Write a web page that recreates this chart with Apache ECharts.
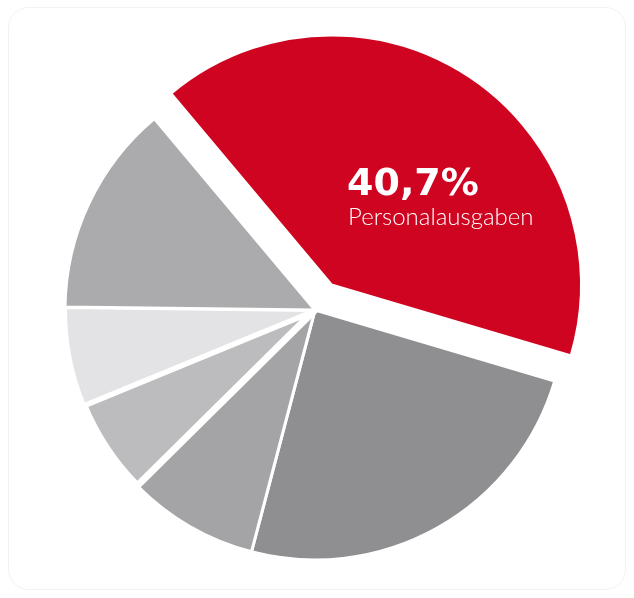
<!DOCTYPE html>
<html>
<head>
<meta charset="utf-8">
<script src="https://cdn.jsdelivr.net/npm/echarts@6/dist/echarts.min.js"></script>
<style>
  html, body { margin: 0; padding: 0; background: #fff; }
  #chart { width: 634px; height: 598px; }
</style>
</head>
<body>
<div id="chart"></div>
<script>
// shares of the budget, clockwise from the red slice
const categories = ['Personalausgaben', 'Sonstige 1', 'Sonstige 2', 'Sonstige 3', 'Sonstige 4', 'Sonstige 5'];
const values = [40.7, 24.5, 8.5, 6.2, 6.4, 13.7];
const colors = ['#cf0420', '#8f8f91', '#a4a4a6', '#bcbcbe', '#e3e3e5', '#ababad'];
const highlightValue = '40,7%';
const highlightLabel = 'Personalausgaben';

const chart = echarts.init(document.getElementById('chart'));

chart.setOption({
  backgroundColor: '#fff',
  animation: false,
  graphic: [
    {
      type: 'rect',
      shape: { x: 8.5, y: 7.5, width: 617, height: 582, r: 20 },
      style: { fill: 'none', stroke: '#f6f1f1', lineWidth: 1 },
      z: -1,
    },
    {
      type: 'text',
      left: 347, top: 166,
      style: {
        text: highlightValue,
        fill: '#fff',
        font: '900 38px "DejaVu Sans"',
      },
      z: 100,
    },
    {
      type: 'text',
      left: 348, top: 205,
      style: {
        text: highlightLabel,
        fill: '#fff',
        font: '300 24px Lato',
      },
      z: 100,
    },
  ],
  series: [
    {
      type: 'pie',
      center: [315, 310],
      radius: [0, 250],
      startAngle: 130,
      clockwise: true,
      selectedMode: 'single',
      selectedOffset: 30,
      label: { show: false },
      labelLine: { show: false },
      emphasis: { disabled: true },
      itemStyle: { borderColor: '#fff', borderWidth: 3 },
      data: values.map((v, i) => ({
        name: categories[i],
        value: v,
        selected: i === 0,
        itemStyle: {
          color: colors[i],
          borderWidth: i === 3 ? 7 : i === 4 ? 4 : 3,
        },
      })),
    },
  ],
});
</script>
</body>
</html>
